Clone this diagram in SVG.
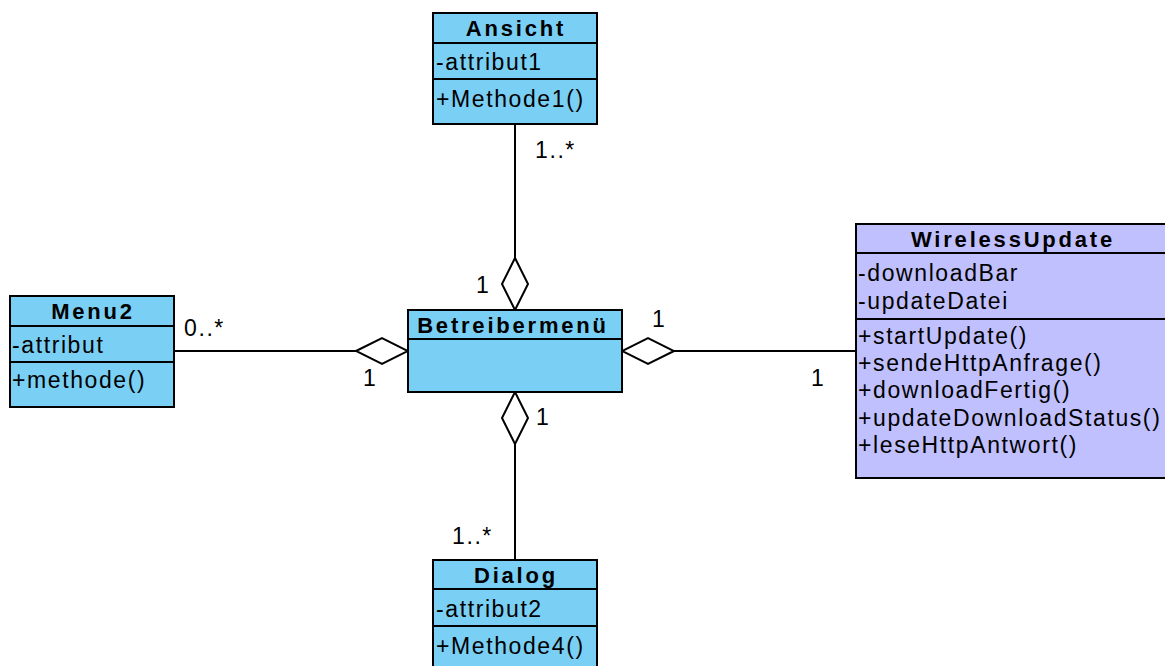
<svg xmlns="http://www.w3.org/2000/svg" width="1165" height="666" viewBox="0 0 1165 666">
  <style>
    .cls { fill: #7ACFF5; stroke: #000; stroke-width: 2; }
    .cls2 { fill: #C0C0FF; stroke: #000; stroke-width: 2; }
    .sep { stroke: #000; stroke-width: 2; }
    .name { font-family: "Liberation Sans", Arial, sans-serif; font-size: 22px; font-weight: bold; letter-spacing: 2.8px; fill: #000; text-anchor: middle; }
    .member { font-family: "Liberation Sans", Arial, sans-serif; font-size: 23px; letter-spacing: 1.6px; fill: #000; }
    .mult { font-family: "Liberation Sans", Arial, sans-serif; font-size: 23px; letter-spacing: 1.6px; fill: #000; }
    .assoc { fill: none; stroke: #000; stroke-width: 2; }
  </style>
  <defs>
    <!-- hollow aggregation diamond at the whole-side end -->
    <marker id="aggr" viewBox="0 0 54 30" markerWidth="54" markerHeight="30" refX="53" refY="15" orient="auto" markerUnits="userSpaceOnUse">
      <path d="M1,15 L27,2 L53,15 L27,28 Z" fill="#fff" stroke="#000" stroke-width="2"/>
    </marker>
  </defs>
  <rect width="1165" height="666" fill="#fff"/>

  <!-- associations -->
  <g id="connectors">
    <path class="assoc" d="M515,124 L515,310" marker-end="url(#aggr)"/>
    <path class="assoc" d="M174,351 L408,351" marker-end="url(#aggr)"/>
    <path class="assoc" d="M856,351 L622,351" marker-end="url(#aggr)"/>
    <path class="assoc" d="M515,560 L515,392" marker-end="url(#aggr)"/>
    <text class="mult" x="535" y="158">1..*</text>
    <text class="mult" x="476" y="293">1</text>
    <text class="mult" x="184" y="336">0..*</text>
    <text class="mult" x="363" y="386">1</text>
    <text class="mult" x="652" y="327">1</text>
    <text class="mult" x="811" y="386">1</text>
    <text class="mult" x="536" y="425">1</text>
    <text class="mult" x="452" y="544">1..*</text>
  </g>

  <g id="Ansicht">
    <rect class="cls" x="433" y="13" width="164" height="111"/>
    <line class="sep" x1="433" y1="43" x2="597" y2="43"/>
    <line class="sep" x1="433" y1="79" x2="597" y2="79"/>
    <text class="name" x="516" y="36">Ansicht</text>
    <text class="member" x="436" y="70">-attribut1</text>
    <text class="member" x="436" y="107">+Methode1()</text>
  </g>

  <g id="Menu2">
    <rect class="cls" x="10" y="296" width="164" height="111"/>
    <line class="sep" x1="10" y1="326" x2="174" y2="326"/>
    <line class="sep" x1="10" y1="362" x2="174" y2="362"/>
    <text class="name" x="93" y="319">Menu2</text>
    <text class="member" x="12" y="353">-attribut</text>
    <text class="member" x="12" y="388">+methode()</text>
  </g>

  <g id="Betreibermenue">
    <rect class="cls" x="408" y="310" width="214" height="82"/>
    <line class="sep" x1="408" y1="339" x2="622" y2="339"/>
    <text class="name" x="513" y="333">Betreibermenü</text>
  </g>

  <g id="WirelessUpdate">
    <rect class="cls2" x="856" y="224" width="320" height="254"/>
    <line class="sep" x1="856" y1="253" x2="1176" y2="253"/>
    <line class="sep" x1="856" y1="319" x2="1176" y2="319"/>
    <text class="name" x="1013" y="247">WirelessUpdate</text>
    <text class="member" x="858" y="281">-downloadBar</text>
    <text class="member" x="858" y="309">-updateDatei</text>
    <text class="member" x="858" y="344">+startUpdate()</text>
    <text class="member" x="858" y="371">+sendeHttpAnfrage()</text>
    <text class="member" x="858" y="398">+downloadFertig()</text>
    <text class="member" x="858" y="426">+updateDownloadStatus()</text>
    <text class="member" x="858" y="453">+leseHttpAntwort()</text>
  </g>

  <g id="Dialog">
    <rect class="cls" x="433" y="560" width="164" height="120"/>
    <line class="sep" x1="433" y1="589" x2="597" y2="589"/>
    <line class="sep" x1="433" y1="626" x2="597" y2="626"/>
    <text class="name" x="516" y="583">Dialog</text>
    <text class="member" x="436" y="617">-attribut2</text>
    <text class="member" x="436" y="654">+Methode4()</text>
  </g>
</svg>
